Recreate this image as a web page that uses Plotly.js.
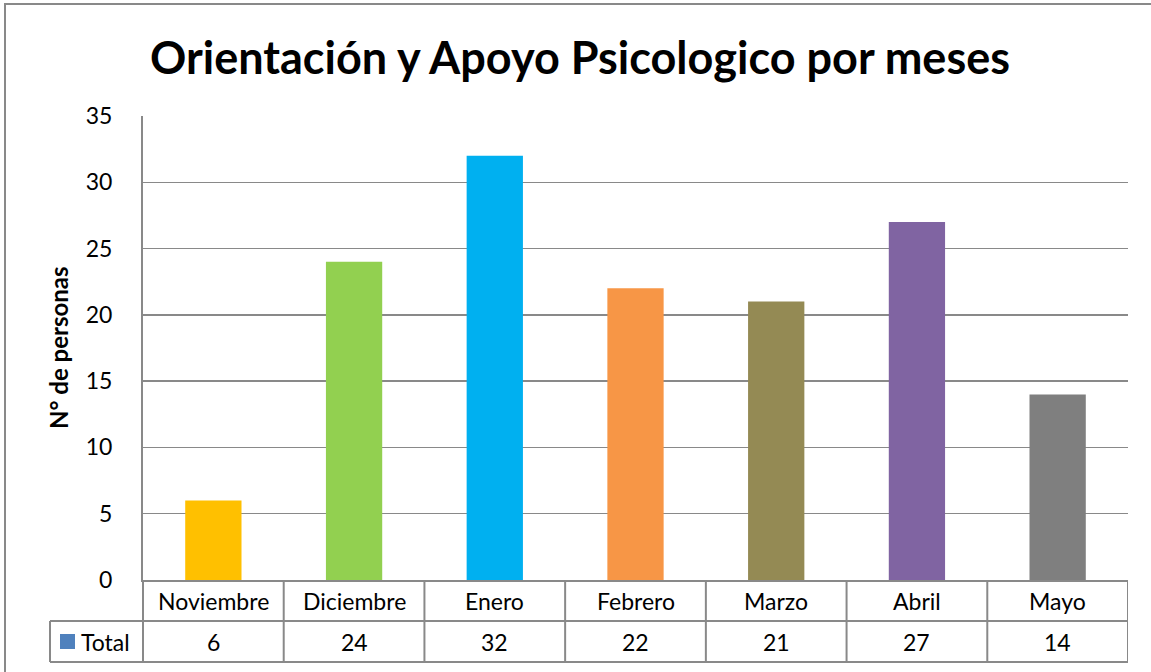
<!DOCTYPE html>
<html>
<head>
<meta charset="utf-8">
<script src="https://cdn.plot.ly/plotly-3.0.1.min.js"></script>
<style>html,body{margin:0;padding:0;background:#fff;}#chart{width:1151px;height:672px;}</style>
</head>
<body>
<div id="chart"></div>
<script>
const months = ["Noviembre", "Diciembre", "Enero", "Febrero", "Marzo", "Abril", "Mayo"];
const totals = [6, 24, 32, 22, 21, 27, 14];
const barColors = ["#FFC000", "#92D050", "#00B0F0", "#F79646", "#948A54", "#8064A2", "#7F7F7F"];
const seriesName = "Total";
const yTicks = [0, 5, 10, 15, 20, 25, 30, 35];

const W = 1151, H = 672;
const L = 143, R = 1128, T = 116, B = 580;
const pw = R - L, ph = B - T;
const py = (pix) => (B - pix) / ph;   // pixel y -> paper y
const px = (pix) => (pix - L) / pw;   // pixel x -> paper x

const idx = months.map((m, i) => i);
const font = "Lato, 'Open Sans', sans-serif";
const lineCol = "#898989";
const txtSize = 23;

const shapes = [];
const annotations = [];
const rowMid = 621, rowBot = 662;
// table horizontal lines
shapes.push({type:'line', xref:'paper', yref:'paper', x0:px(50), x1:1, y0:py(rowMid), y1:py(rowMid), line:{color:lineCol, width:2}});
shapes.push({type:'line', xref:'paper', yref:'paper', x0:px(50), x1:1, y0:py(rowBot), y1:py(rowBot), line:{color:lineCol, width:2}});
shapes.push({type:'line', xref:'paper', yref:'paper', x0:px(50), x1:px(50), y0:py(rowMid), y1:py(rowBot), line:{color:lineCol, width:2}});
// vertical dividers
shapes.push({type:'line', xref:'paper', yref:'paper', x0:0, x1:0, y0:0, y1:py(rowBot), line:{color:lineCol, width:2}});
idx.forEach(i => {
  shapes.push({type:'line', xref:'x', yref:'paper', x0:i+0.5, x1:i+0.5, y0:0, y1:py(rowBot), line:{color:lineCol, width:2}});
  annotations.push({xref:'x', yref:'paper', x:i, y:py((B+rowMid)/2), text:months[i], showarrow:false, xanchor:'center', yanchor:'middle', font:{family:font, size:txtSize, color:'#000'}});
  annotations.push({xref:'x', yref:'paper', x:i, y:py((rowMid+rowBot)/2), text:String(totals[i]), showarrow:false, xanchor:'center', yanchor:'middle', font:{family:font, size:txtSize, color:'#000'}});
});
// legend key square and label
shapes.push({type:'rect', xref:'paper', yref:'paper', x0:px(60), x1:px(75), y0:py(634), y1:py(649), fillcolor:'#4F81BD', line:{width:0}});
annotations.push({xref:'paper', yref:'paper', x:px(79), y:py((rowMid+rowBot)/2), text:seriesName, showarrow:false, xanchor:'left', yanchor:'middle', font:{family:font, size:txtSize, color:'#000'}});
// y title
annotations.push({xref:'paper', yref:'paper', x:px(58), y:0.5, text:'<b>N° de personas</b>', textangle:-90, showarrow:false, xanchor:'center', yanchor:'middle', font:{family:font, size:24, color:'#000'}});
// outer border
shapes.push({type:'rect', xref:'paper', yref:'paper', x0:px(5), x1:px(1160), y0:py(4), y1:py(680), line:{color:lineCol, width:2}, fillcolor:'rgba(0,0,0,0)'});

const trace = {
  type:'bar', x:idx, y:totals, name:seriesName, width:0.4,
  marker:{color:barColors, line:{width:0}},
  hoverinfo:'skip'
};

const layout = {
  width:W, height:H,
  margin:{l:L, r:W-R, t:T, b:H-B, pad:0},
  paper_bgcolor:'#fff', plot_bgcolor:'#fff',
  showlegend:false,
  title:{text:'<b>Orientación y Apoyo Psicologico por meses</b>', xref:'paper', x:px(580), xanchor:'center', y:1-58/H, yanchor:'middle', font:{family:font, size:45, color:'#000'}},
  xaxis:{range:[-0.5, 6.5], showticklabels:false, showgrid:false, zeroline:false, showline:true, linecolor:lineCol, linewidth:2, ticks:'', fixedrange:true},
  yaxis:{range:[0, 35], tickvals:yTicks, ticktext:yTicks.map(String), showgrid:true, gridcolor:lineCol, gridwidth:1.5, zeroline:false, showline:true, linecolor:lineCol, linewidth:2, ticks:'', ticklabelstandoff:24, tickfont:{family:font, size:txtSize, color:'#000'}, fixedrange:true},
  shapes:shapes,
  annotations:annotations
};

Plotly.newPlot('chart', [trace], layout, {displayModeBar:false, staticPlot:true});
</script>
</body>
</html>
